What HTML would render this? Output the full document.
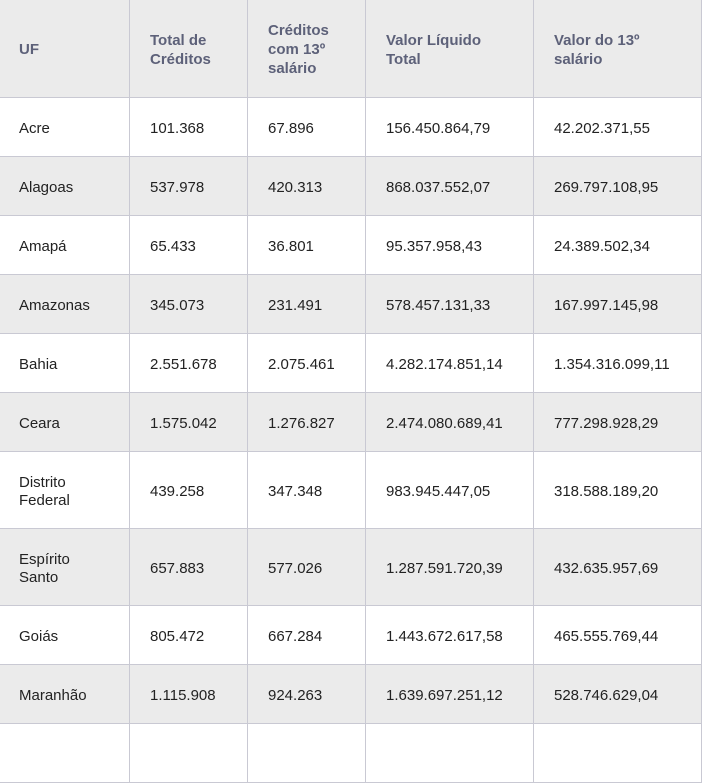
<!DOCTYPE html>
<html><head><meta charset="utf-8"><style>
body{margin:0;background:#fff;width:704px;height:726px;overflow:hidden;font-family:"Liberation Sans",sans-serif;}
table{border-collapse:collapse;table-layout:fixed;position:absolute;left:-1px;top:-1px;width:703px;}
td,th{border:1px solid #c9c9d3;padding:3px 0 0 20px;text-align:left;vertical-align:middle;font-size:15px;color:#222;line-height:18px;}
td:first-child,th:first-child{padding-left:19px;}
th{background:#ebebeb;color:#5d6179;font-weight:bold;font-size:15px;height:95px;line-height:19px;padding-top:2px;}
tr.g td{background:#ebebeb;}
tr td{height:55px;}
tr.t td{height:73px;}
</style></head><body>
<table>
<colgroup><col style="width:130px"><col style="width:118px"><col style="width:118px"><col style="width:168px"><col style="width:168px"></colgroup>
<tr><th>UF</th><th>Total de<br>Créditos</th><th>Créditos<br>com 13º<br>salário</th><th>Valor Líquido<br>Total</th><th>Valor do 13º<br>salário</th></tr>
<tr><td>Acre</td><td>101.368</td><td>67.896</td><td>156.450.864,79</td><td>42.202.371,55</td></tr>
<tr class="g"><td>Alagoas</td><td>537.978</td><td>420.313</td><td>868.037.552,07</td><td>269.797.108,95</td></tr>
<tr><td>Amapá</td><td>65.433</td><td>36.801</td><td>95.357.958,43</td><td>24.389.502,34</td></tr>
<tr class="g"><td>Amazonas</td><td>345.073</td><td>231.491</td><td>578.457.131,33</td><td>167.997.145,98</td></tr>
<tr><td>Bahia</td><td>2.551.678</td><td>2.075.461</td><td>4.282.174.851,14</td><td>1.354.316.099,11</td></tr>
<tr class="g"><td>Ceara</td><td>1.575.042</td><td>1.276.827</td><td>2.474.080.689,41</td><td>777.298.928,29</td></tr>
<tr class="t"><td>Distrito<br>Federal</td><td>439.258</td><td>347.348</td><td>983.945.447,05</td><td>318.588.189,20</td></tr>
<tr class="g t"><td>Espírito<br>Santo</td><td>657.883</td><td>577.026</td><td>1.287.591.720,39</td><td>432.635.957,69</td></tr>
<tr><td>Goiás</td><td>805.472</td><td>667.284</td><td>1.443.672.617,58</td><td>465.555.769,44</td></tr>
<tr class="g"><td>Maranhão</td><td>1.115.908</td><td>924.263</td><td>1.639.697.251,12</td><td>528.746.629,04</td></tr>
<tr><td>&nbsp;</td><td></td><td></td><td></td><td></td></tr>
</table>
</body></html>
